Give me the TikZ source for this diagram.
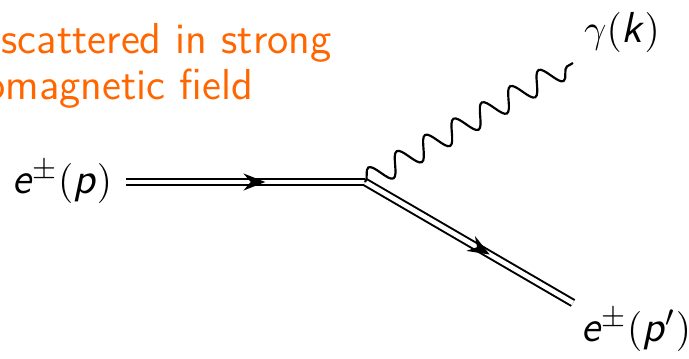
\documentclass[tikz,border=0pt]{standalone}
\usepackage{tikz}
\usetikzlibrary{arrows.meta, positioning, calc, decorations.pathmorphing, decorations.markings}
\definecolor{accentO}{RGB}{255, 102, 0}
\newcommand{\msf}[1]{\textsf{\textsl{#1}}}

\begin{document}
\begin{tikzpicture}[x=0.3pt, y=0.3pt,
        fermion/.style={double=white, double distance=1.4pt, line width=0.6pt,
                  postaction={decorate, draw=none},
                  decoration={markings, mark=at position 0.6 with {\arrow{Stealth[length=6.5pt, width=5pt]}}}},
        photon/.style={line width=0.65pt, decorate, decoration={snake, amplitude=3.3pt, segment length=9.8pt}},
        lbl/.style={font=\fontsize{13}{15}\selectfont\sffamily, inner sep=1pt},
        note/.style={font=\fontsize{13}{15}\selectfont\sffamily, text=accentO, inner sep=0pt, anchor=base west}]
        \useasboundingbox (0,0) rectangle (689,358);
        \node[note] (t1) at (1,304) {scattered in strong};
        \node[note] (t2) at (-16,258) {omagnetic field};
        \coordinate (v) at (365,176);
        \coordinate (pend) at (573,55);
        \coordinate (kend) at (573,295);
        \node[lbl] (ein)  at (62,176)  {$\msf{e}^{\pm}(\msf{p})$};
        \node[lbl] (kout) at (622,326) {$\gamma(\msf{k})$};
        \node[lbl] (eout) at (636,28)  {$\msf{e}^{\pm}(\msf{p}')$};
        \draw[fermion, shorten <=3pt] (ein) -- (v);
        \draw[fermion] (v) -- (pend);
        \draw[photon] (v) -- (kend);
    \end{tikzpicture}
\end{document}
